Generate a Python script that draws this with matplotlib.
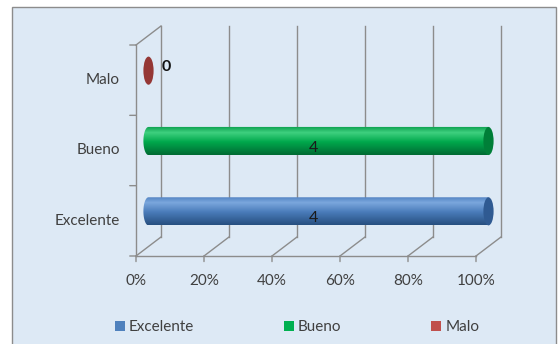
import numpy as np
import matplotlib.pyplot as plt
from matplotlib.patches import Rectangle, Ellipse, Polygon
from matplotlib.transforms import ScaledTranslation
from matplotlib.colors import LinearSegmentedColormap

plt.rcParams['font.family'] = ['Lato', 'DejaVu Sans']

# Data
categories = ['Excelente', 'Bueno', 'Malo']
counts = [4, 4, 0]
colors = ['#4f81bd', '#00b050', '#c0504d']
shades = [  # bottom, mid, highlight, top
    ['#274f80', '#4a7cba', '#7ba7dd', '#4f80c0'],
    ['#006b33', '#00a84c', '#3fd07f', '#0a9e4c'],
    ['#6e2220', '#953735', '#b85450', '#953735'],
]
caps = ['#2f5a92', '#007f38', '#8b2f2d']
xticks = [0, 20, 40, 60, 80, 100]
xticklabels = ['0%', '20%', '40%', '60%', '80%', '100%']

# 100% stacked: each category only has its own series
pct = [100.0 * c / c if c > 0 else 0.0 for c in counts]

fig = plt.figure(figsize=(5.6, 3.44), dpi=100)
fig.patch.set_facecolor('white')
fig.patches.append(Rectangle((12 / 560, -0.05), 544 / 560, (337 / 344) + 0.05,
                             transform=fig.transFigure, facecolor='#dde9f5',
                             edgecolor='#8c8c8c', linewidth=1.0, zorder=-10))

# axes: 0..100% spans x=136..476 px, categories span y=256..45 px;
# it is made a bit larger so the 3D parts are not clipped
ax = fig.add_axes([136 / 560, 88 / 344, 384 / 560, 236 / 344])
ax.set_xlim(0, 100 * 384 / 340)
ax.set_ylim(-0.5, -0.5 + 3 * 236 / 211)
ax.axis('off')

depth = (0.25, 0.19)  # inches (25px, 19px)
back = ax.transData + ScaledTranslation(depth[0], depth[1], fig.dpi_scale_trans)
mid = ax.transData + ScaledTranslation(depth[0] / 2, depth[1] / 2, fig.dpi_scale_trans)
grid_c = '#8c8c8c'

def diag(x, y):
    # line from a front point to the matching back point
    p0 = ax.transData.transform((x, y))
    p1 = back.transform((x, y))
    fig.add_artist(plt.Line2D([p0[0] / 560, p1[0] / 560], [p0[1] / 344, p1[1] / 344],
                              color=grid_c, lw=1.0, transform=fig.transFigure))

# back wall gridlines
for x in xticks:
    ax.plot([x, x], [-0.5, 2.5], color=grid_c, lw=1.0, transform=back, clip_on=False)
# floor diagonals and ticks
for x in xticks:
    diag(x, -0.5)
    ax.annotate('', xy=(x, -0.5), xytext=(0, -4), textcoords='offset points',
                arrowprops=dict(arrowstyle='-', color=grid_c, lw=1.0, shrinkA=0, shrinkB=0))
diag(0, 2.5)
# front axes lines
ax.plot([0, 100], [-0.5, -0.5], color=grid_c, lw=1.0, clip_on=False)
ax.plot([0, 0], [-0.5, 2.5], color=grid_c, lw=1.0, clip_on=False)
for y in [-0.5, 0.5, 1.5, 2.5]:
    ax.annotate('', xy=(0, y), xytext=(-4.5, 0), textcoords='offset points',
                arrowprops=dict(arrowstyle='-', color=grid_c, lw=1.0, shrinkA=0, shrinkB=0))

# tick labels
for x, lab in zip(xticks, xticklabels):
    ax.text(x, -0.5, lab, ha='center', va='top', fontsize=11, color='#404040',
            transform=ax.transData + ScaledTranslation(0, -0.18, fig.dpi_scale_trans))
for i, lab in enumerate(categories):
    ax.text(0, i, lab, ha='right', va='center', fontsize=11, color='#404040',
            transform=ax.transData + ScaledTranslation(-0.16, 0, fig.dpi_scale_trans))

# cylinders
a = 1.5   # half width of end ellipse in %
b = 0.2   # half height
for i, (p, sh, cap) in enumerate(zip(pct, shades, caps)):
    cmap = LinearSegmentedColormap.from_list('c%d' % i, list(zip([0, 0.45, 0.78, 1.0], sh)))
    if p > 0:
        th = np.linspace(np.pi / 2, 3 * np.pi / 2, 40)
        verts = np.column_stack([0 + a * np.cos(th), i + b * np.sin(th)])
        verts = np.vstack([verts, [[p, i - b], [p, i + b]]])
        clip = Polygon(verts, closed=True, transform=mid, facecolor='none', edgecolor='none')
        ax.add_patch(clip)
        grad = np.linspace(0, 1, 64).reshape(-1, 1)
        im = ax.imshow(grad, cmap=cmap, origin='lower', aspect='auto',
                       extent=[-a, p, i - b, i + b], transform=mid, zorder=3)
        im.set_clip_path(clip)
        ax.add_patch(Ellipse((p, i), 2 * a, 2 * b, transform=mid, facecolor=cap,
                             edgecolor='none', zorder=4))
        ax.text(p / 2 - 1.5, i - 0.1, str(counts[i]), ha='center', va='center', fontsize=11.5,
                color='#1a1a1a', transform=mid, zorder=5)
    else:
        ax.add_patch(Ellipse((p, i), 2 * a, 2 * b, transform=mid, facecolor=sh[1],
                             edgecolor='none', zorder=4))
        ax.text(p, i, str(counts[i]), ha='left', va='center', fontsize=11.5,
                fontweight='bold', color='#111111', zorder=5,
                transform=mid + ScaledTranslation(0.13, 0.04, fig.dpi_scale_trans))

ax.set_xlim(0, 100 * 384 / 340)
ax.set_ylim(-0.5, -0.5 + 3 * 236 / 211)

handles = [Rectangle((0, 0), 1, 1, facecolor=c, edgecolor='none') for c in colors]
fig.legend(handles, categories, loc='center', bbox_to_anchor=(297 / 560, 1 - 327 / 344),
           ncol=3, frameon=False, fontsize=11, handlelength=0.65, handleheight=0.65,
           handletextpad=0.25, columnspacing=5.9, labelcolor='#404040')

fig.savefig('out.png', dpi=100)
